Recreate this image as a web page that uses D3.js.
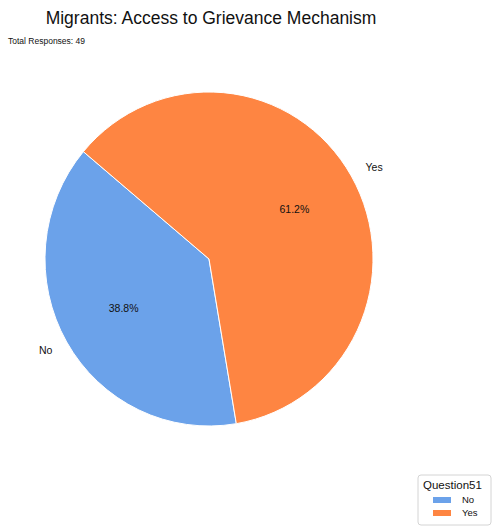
<!DOCTYPE html>
<html>
<head>
<meta charset="utf-8">
<script src="https://cdn.jsdelivr.net/npm/d3@7"></script>
<style>
  html, body { margin: 0; padding: 0; background: #fff; }
  svg { display: block; font-family: "Liberation Sans", Arial, sans-serif; }
</style>
</head>
<body>
<svg id="chart" width="493" height="527"></svg>
<script>
// Survey answers and counts
const categories = ["No", "Yes"];
const counts = [19, 30];
const colors = ["#6ba2ea", "#fe8542"];
const titleText = "Migrants: Access to Grievance Mechanism";
const legendTitle = "Question51";

const total = d3.sum(counts);
const svg = d3.select("#chart");

const cx = 209, cy = 259, r = 164, yStretch = 167 / 164;

svg.append("text")
  .attr("x", 211).attr("y", 24)
  .attr("text-anchor", "middle")
  .attr("font-size", 17.5)
  .attr("fill", "#111")
  .text(titleText);

svg.append("text")
  .attr("x", 8).attr("y", 44)
  .attr("font-size", 8.5)
  .attr("fill", "#111")
  .text("Total Responses: " + total);

// Slices: "No" first, counter-clockwise from a 140° start (math convention)
const startDeg = 140;
const deg = Math.PI / 180;
const pie = d3.pie().sort(null).value(d => d.value)
  .startAngle((90 - startDeg) * deg)
  .endAngle((90 - startDeg) * deg - 2 * Math.PI);

const data = categories.map((c, i) => ({ name: c, value: counts[i], color: colors[i] }));
const arcs = pie(data);

const g = svg.append("g").attr("transform", `translate(${cx},${cy})`);
const arc = d3.arc().innerRadius(0).outerRadius(r);

g.append("g").attr("transform", `scale(1,${yStretch})`)
  .selectAll("path.slice").data(arcs).join("path")
  .attr("class", "slice")
  .attr("d", arc)
  .attr("fill", d => d.data.color)
  .attr("stroke", "#fff")
  .attr("stroke-width", 1)
  .attr("vector-effect", "non-scaling-stroke");

const labelArc = d3.arc().innerRadius(r * 1.1).outerRadius(r * 1.1);
const pctArc = d3.arc().innerRadius(r * 0.6).outerRadius(r * 0.6);

g.selectAll("text.lbl").data(arcs).join("text")
  .attr("class", "lbl")
  .attr("x", d => labelArc.centroid(d)[0])
  .attr("y", d => labelArc.centroid(d)[1] * yStretch)
  .attr("dy", "0.35em")
  .attr("text-anchor", d => labelArc.centroid(d)[0] < 0 ? "end" : "start")
  .attr("font-size", 10.5)
  .attr("fill", "#111")
  .text(d => d.data.name);

g.selectAll("text.pct").data(arcs).join("text")
  .attr("class", "pct")
  .attr("x", d => pctArc.centroid(d)[0])
  .attr("y", d => pctArc.centroid(d)[1] * yStretch)
  .attr("dy", "0.35em")
  .attr("text-anchor", "middle")
  .attr("font-size", 10.5)
  .attr("fill", "#111")
  .text(d => (d.data.value / total * 100).toFixed(1) + "%");

// Legend
const lg = svg.append("g").attr("transform", "translate(418,475)");
lg.append("rect")
  .attr("width", 73).attr("height", 50)
  .attr("rx", 3)
  .attr("fill", "#fff")
  .attr("stroke", "#d4d4d4");
lg.append("text")
  .attr("x", 5).attr("y", 14)
  .attr("font-size", 11.5)
  .attr("fill", "#111")
  .text(legendTitle);
const items = lg.selectAll("g.item").data(data).join("g")
  .attr("class", "item")
  .attr("transform", (d, i) => `translate(15,${22 + i * 13})`);
items.append("rect")
  .attr("width", 18).attr("height", 6)
  .attr("fill", d => d.color);
items.append("text")
  .attr("x", 29).attr("y", 3)
  .attr("dy", "0.35em")
  .attr("font-size", 9.5)
  .attr("fill", "#111")
  .text(d => d.name);
</script>
</body>
</html>
